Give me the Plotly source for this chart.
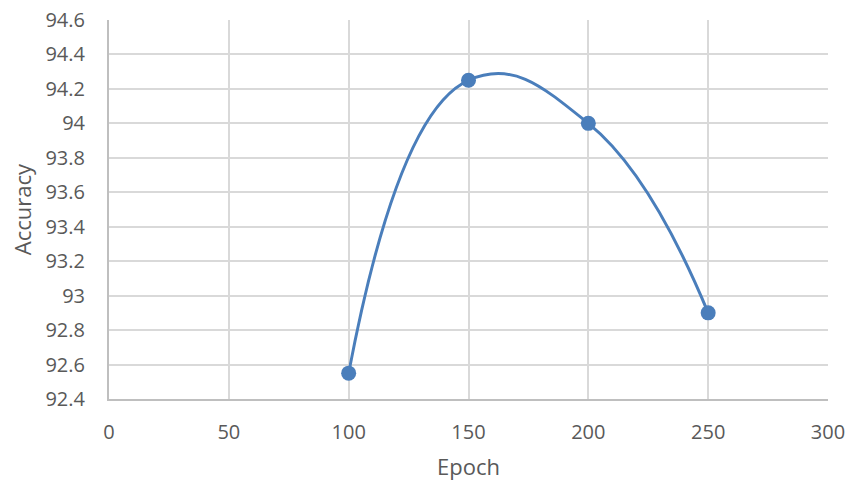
import plotly.graph_objects as go

epochs = [100, 150, 200, 250]
accuracy = [92.55, 94.25, 94.0, 92.9]
x_ticks = [0, 50, 100, 150, 200, 250, 300]
y_ticks = [92.4, 92.6, 92.8, 93.0, 93.2, 93.4, 93.6, 93.8, 94.0, 94.2, 94.4, 94.6]
y_labels = ["92.4", "92.6", "92.8", "93", "93.2", "93.4", "93.6", "93.8", "94", "94.2", "94.4", "94.6"]

color = "#4a7ebb"
font = "Open Sans, Liberation Sans, sans-serif"

fig = go.Figure(go.Scatter(
    x=epochs, y=accuracy, mode="lines+markers",
    line=dict(color=color, width=3, shape="spline", smoothing=1.3),
    marker=dict(color=color, size=15),
))

fig.update_layout(
    width=853, height=482,
    margin=dict(l=109, r=25, t=20, b=83, autoexpand=False),
    paper_bgcolor="white", plot_bgcolor="white",
    showlegend=False,
    font=dict(family=font, size=20, color="#595959"),
)
fig.update_xaxes(
    range=[0, 300], tickvals=x_ticks, ticktext=[str(v) for v in x_ticks],
    showgrid=True, gridcolor="#d9d9d9", gridwidth=2,
    showline=True, linecolor="#bfbfbf", linewidth=2,
    zeroline=False, ticks="outside", ticklen=14, tickcolor="rgba(0,0,0,0)",
    automargin=False,
    title=dict(text="Epoch", font=dict(size=22), standoff=16),
)
fig.update_yaxes(
    range=[92.4, 94.6], tickvals=y_ticks, ticktext=y_labels,
    showgrid=True, gridcolor="#d9d9d9", gridwidth=2,
    showline=True, linecolor="#bfbfbf", linewidth=2,
    zeroline=False, ticks="outside", ticklen=18, tickcolor="rgba(0,0,0,0)",
    automargin=False,
    title=dict(text="Accuracy", font=dict(size=22), standoff=8),
)

fig.write_html("out.html")
